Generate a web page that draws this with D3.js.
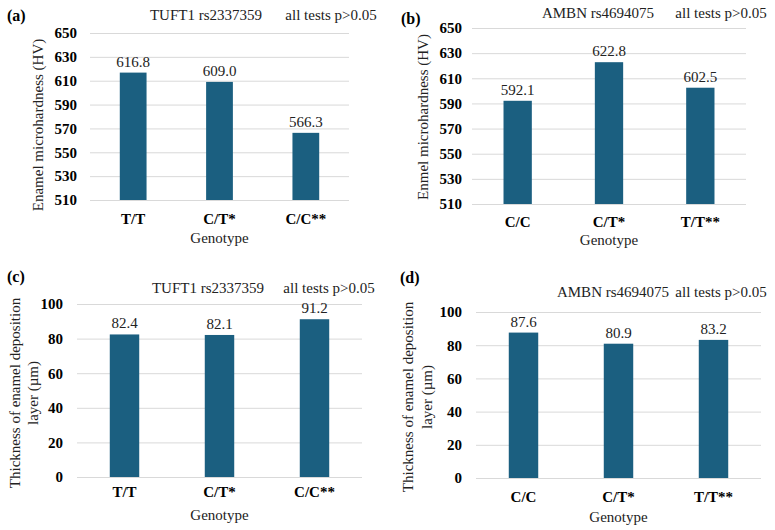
<!DOCTYPE html>
<html>
<head>
<meta charset="utf-8">
<script src="https://cdn.jsdelivr.net/npm/d3@7"></script>
<style>
  body { margin: 0; background: #fff; }
  svg text { font-family: "Liberation Serif", "Times New Roman", serif; }
</style>
</head>
<body>
<div id="chart"></div>
<script>
// data
let tuftGenotypes = ["T/T", "C/T*", "C/C**"];
let ambnGenotypes = ["C/C", "C/T*", "T/T**"];
let hardnessTuft = [616.8, 609.0, 566.3];
let hardnessAmbn = [592.1, 622.8, 602.5];
let thicknessTuft = [82.4, 82.1, 91.2];
let thicknessAmbn = [87.6, 80.9, 83.2];
let hardnessTicks = [510, 530, 550, 570, 590, 610, 630, 650];
let thicknessTicks = [0, 20, 40, 60, 80, 100];

function init() {
    let width = 775;
    let height = 530;
    let fs = 15;
    let svg = d3.select("#chart")
        .append("svg")
        .attr("width", width)
        .attr("height", height);

    let panels = [
        { tag: "(a)", tagX: 7, tagY: 21, title: "TUFT1 rs2337359", titleX: 206, titleY: 20,
          noteX: 331, noteY: 20, x0: 90, x1: 349, y0: 200, y1: 33,
          cats: tuftGenotypes, vals: hardnessTuft, ticks: hardnessTicks, domain: [510, 650],
          tickRight: 77, ytitle: ["Enamel microhardness (HV)"], ytitleX: [43], ytitleY: 125,
          catY: 225, genoY: 243 },
        { tag: "(b)", tagX: 401, tagY: 24, title: "AMBN rs4694075", titleX: 598, titleY: 18,
          noteX: 721, noteY: 18, x0: 472, x1: 746, y0: 204, y1: 28,
          cats: ambnGenotypes, vals: hardnessAmbn, ticks: hardnessTicks, domain: [510, 650],
          tickRight: 462, ytitle: ["Enmel microhardness (HV)"], ytitleX: [428], ytitleY: 117,
          catY: 228, genoY: 245 },
        { tag: "(c)", tagX: 7, tagY: 282, title: "TUFT1 rs2337359", titleX: 208, titleY: 293,
          noteX: 329, noteY: 293, x0: 77, x1: 362, y0: 477, y1: 304,
          cats: tuftGenotypes, vals: thicknessTuft, ticks: thicknessTicks, domain: [0, 100],
          tickRight: 63, ytitle: ["Thickness of enamel deposition", "layer (\u00b5m)"],
          ytitleX: [20, 38], ytitleY: 393, catY: 498, genoY: 520 },
        { tag: "(d)", tagX: 400, tagY: 283, title: "AMBN rs4694075", titleX: 613, titleY: 297,
          noteX: 721, noteY: 297, x0: 476, x1: 761, y0: 478, y1: 312,
          cats: ambnGenotypes, vals: thicknessAmbn, ticks: thicknessTicks, domain: [0, 100],
          tickRight: 462, ytitle: ["Thickness of enamel deposition", "layer (\u00b5m)"],
          ytitleX: [413, 432], ytitleY: 397, catY: 503, genoY: 522 }
    ];

    panels.forEach(function (p) {
        let g = svg.append("g");
        let xScale = d3.scaleBand()
            .domain(p.cats)
            .range([p.x0, p.x1])
            .paddingInner(0.69)
            .paddingOuter(0.345);
        let yScale = d3.scaleLinear()
            .domain(p.domain)
            .range([p.y0, p.y1]);

        // gridlines
        g.selectAll(".grid")
            .data(p.ticks)
            .enter()
            .append("line")
            .attr("x1", p.x0)
            .attr("x2", p.x1)
            .attr("y1", d => yScale(d) + 0.5)
            .attr("y2", d => yScale(d) + 0.5)
            .attr("stroke", "#d9d9d9")
            .attr("stroke-width", 1);

        // y tick labels
        let yAxis = d3.axisLeft(yScale).tickValues(p.ticks).tickSize(0).tickPadding(0);
        let ya = g.append("g")
            .attr("transform", "translate(" + p.tickRight + ",0)")
            .call(yAxis)
            .attr("font-family", "Liberation Serif")
            .attr("font-size", fs);
        ya.select(".domain").remove();
        ya.selectAll("text")
            .attr("font-weight", "bold")
            .attr("fill", "#000");

        // bars
        g.selectAll(".bar")
            .data(p.vals)
            .enter()
            .append("rect")
            .attr("x", (d, i) => xScale(p.cats[i]))
            .attr("width", xScale.bandwidth())
            .attr("y", d => yScale(d))
            .attr("height", d => p.y0 - yScale(d))
            .attr("fill", "#1b5f80");

        // value labels
        g.selectAll(".val")
            .data(p.vals)
            .enter()
            .append("text")
            .attr("x", (d, i) => xScale(p.cats[i]) + xScale.bandwidth() / 2)
            .attr("y", d => yScale(d) - 6)
            .attr("text-anchor", "middle")
            .attr("font-size", fs)
            .attr("fill", "#222")
            .text(d => d.toFixed(1));

        // x tick labels
        let xAxis = d3.axisBottom(xScale).tickSize(0).tickPadding(0);
        let xa = g.append("g")
            .attr("transform", "translate(0," + (p.catY - 12) + ")")
            .call(xAxis)
            .attr("font-family", "Liberation Serif")
            .attr("font-size", fs);
        xa.select(".domain").remove();
        xa.selectAll("text")
            .attr("font-weight", "bold")
            .attr("fill", "#000");

        // axis titles
        g.append("text")
            .attr("x", (p.x0 + p.x1) / 2)
            .attr("y", p.genoY)
            .attr("text-anchor", "middle")
            .attr("font-size", fs)
            .attr("fill", "#222")
            .text("Genotype");

        p.ytitle.forEach(function (t, i) {
            g.append("text")
                .attr("transform", "translate(" + p.ytitleX[i] + "," + p.ytitleY + ") rotate(-90)")
                .attr("text-anchor", "middle")
                .attr("font-size", fs)
                .attr("fill", "#222")
                .text(t);
        });

        // panel tag and titles
        g.append("text")
            .attr("x", p.tagX)
            .attr("y", p.tagY)
            .attr("font-size", 16)
            .attr("font-weight", "bold")
            .attr("fill", "#000")
            .text(p.tag);
        g.append("text")
            .attr("x", p.titleX)
            .attr("y", p.titleY)
            .attr("text-anchor", "middle")
            .attr("font-size", fs)
            .attr("fill", "#222")
            .text(p.title);
        g.append("text")
            .attr("x", p.noteX)
            .attr("y", p.noteY)
            .attr("text-anchor", "middle")
            .attr("font-size", fs)
            .attr("fill", "#222")
            .text("all tests p>0.05");
    });
}

window.addEventListener('load', init);
</script>
</body>
</html>
